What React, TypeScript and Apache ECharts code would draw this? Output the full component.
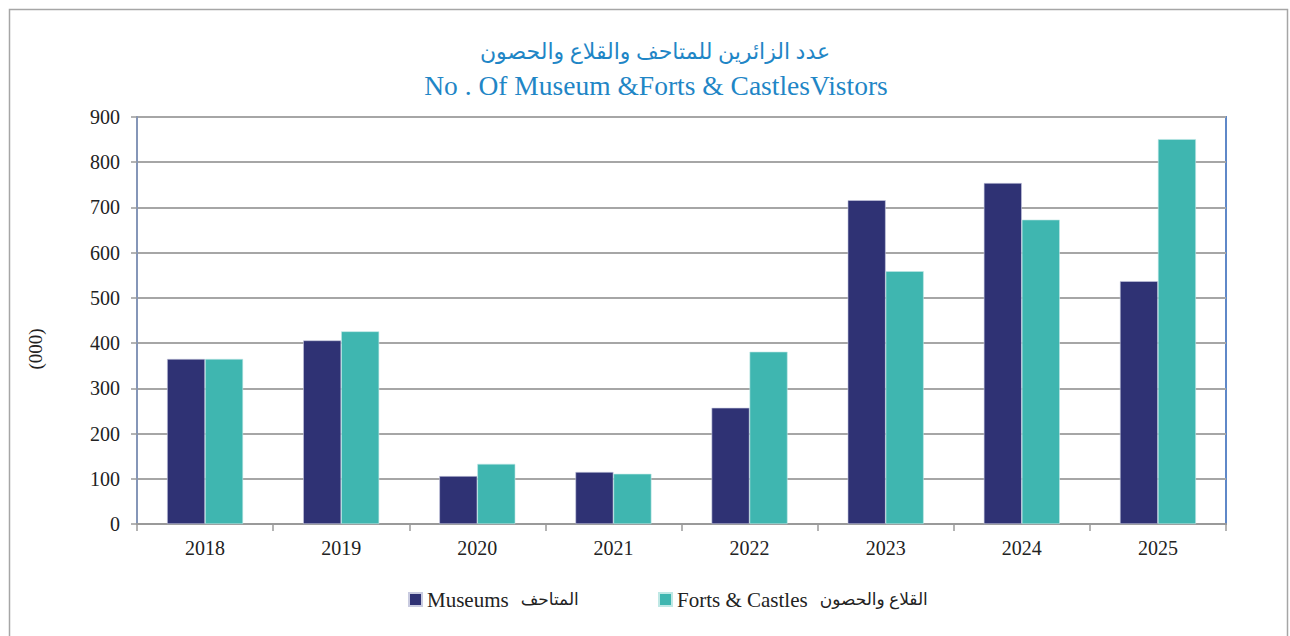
import React, { useEffect, useRef } from "react";
import * as echarts from "echarts";

const years = ["2018", "2019", "2020", "2021", "2022", "2023", "2024", "2025"];
const museums = [365, 406, 106, 115, 257, 716, 754, 537];
const forts = [365, 426, 133, 111, 381, 559, 673, 851];
const yTicks = { min: 0, max: 900, interval: 100 };
const titleAr = "عدد الزائرين للمتاحف والقلاع والحصون";
const titleEn = "No . Of Museum &Forts & CastlesVistors";
const nameMuseums = "Museums  المتاحف";
const nameForts = "Forts & Castles  القلاع والحصون";
const unitLabel = "(000)";

const SERIF = "'Liberation Serif', 'Times New Roman', 'DejaVu Sans', serif";

function legendFmt(name: string) {
  const i = name.indexOf("  ");
  return "{en|" + name.slice(0, i) + "}{sp| }{ar|" + name.slice(i + 2) + "}";
}

const legendRich = {
  en: { fontFamily: SERIF, fontSize: 21, color: "#222" },
  sp: { fontFamily: SERIF, fontSize: 21, color: "#222", width: 12 },
  ar: { fontFamily: SERIF, fontSize: 17, color: "#222" },
};

export default function App() {
  const ref = useRef<HTMLDivElement>(null);
  useEffect(() => {
    if (!ref.current) return;
    const chart = echarts.init(ref.current, undefined, { renderer: "svg" });
    const legendBase = {
      top: 584,
      icon: "rect",
      itemWidth: 13,
      itemHeight: 13,
      itemGap: 6,
      formatter: legendFmt,
      textStyle: { fontFamily: SERIF, fontSize: 21, color: "#222", rich: legendRich },
    };
    chart.setOption({
      animation: false,
      backgroundColor: "#ffffff",
      legend: [
        { ...legendBase, left: 403, data: [nameMuseums] },
        { ...legendBase, left: 653, data: [nameForts] },
      ],
      graphic: [
        {
          type: "rect",
          shape: { x: 9.5, y: 9.5, width: 1278, height: 700 },
          style: { fill: "none", stroke: "#a6a6a6", lineWidth: 1.5 },
          silent: true,
        },
        {
          type: "text",
          x: 655,
          y: 51,
          style: {
            text: titleAr,
            fontFamily: SERIF,
            fontSize: 22,
            fill: "#1f86c6",
            align: "center",
            verticalAlign: "middle",
          },
        },
        {
          type: "text",
          x: 656,
          y: 85,
          style: {
            text: titleEn,
            fontFamily: SERIF,
            fontSize: 27.5,
            fill: "#1f86c6",
            align: "center",
            verticalAlign: "middle",
          },
        },
        {
          type: "text",
          x: 35,
          y: 349,
          rotation: Math.PI / 2,
          style: {
            text: unitLabel,
            fontFamily: SERIF,
            fontSize: 19,
            fill: "#222",
            align: "center",
            verticalAlign: "middle",
          },
        },
      ],
      grid: {
        left: 137,
        top: 117,
        right: 64,
        bottom: 112,
        show: true,
        borderColor: "#5f88c8",
        borderWidth: 2,
      },
      xAxis: {
        type: "category",
        data: years,
        axisLine: { lineStyle: { color: "#9a9a9a", width: 2 } },
        axisTick: { show: true, length: 7, lineStyle: { color: "#9a9a9a", width: 1.5 } },
        axisLabel: { fontFamily: SERIF, fontSize: 20, color: "#222", margin: 14 },
      },
      yAxis: {
        type: "value",
        min: yTicks.min,
        max: yTicks.max,
        interval: yTicks.interval,
        axisLine: { show: true, lineStyle: { color: "#8596b8", width: 2 } },
        axisTick: { show: true, length: 6, lineStyle: { color: "#9a9a9a", width: 1.5 } },
        axisLabel: { fontFamily: SERIF, fontSize: 20, color: "#222", margin: 17 },
        splitLine: { lineStyle: { color: "#a6a6a6", width: 2 } },
      },
      series: [
        {
          name: nameMuseums,
          type: "bar",
          data: museums,
          barWidth: 38,
          barGap: "0%",
          itemStyle: { color: "#2f3274", borderColor: "#c9cbe0", borderWidth: 0.6 },
        },
        {
          name: nameForts,
          type: "bar",
          data: forts,
          barWidth: 38,
          barGap: "0%",
          itemStyle: { color: "#3fb6b0", borderColor: "#bfe8e5", borderWidth: 0.6 },
        },
      ],
    });
    return () => chart.dispose();
  }, []);
  return (
    <div
      ref={ref}
      style={{ position: "fixed", left: 0, top: 0, width: 1290, height: 636 }}
    />
  );
}
